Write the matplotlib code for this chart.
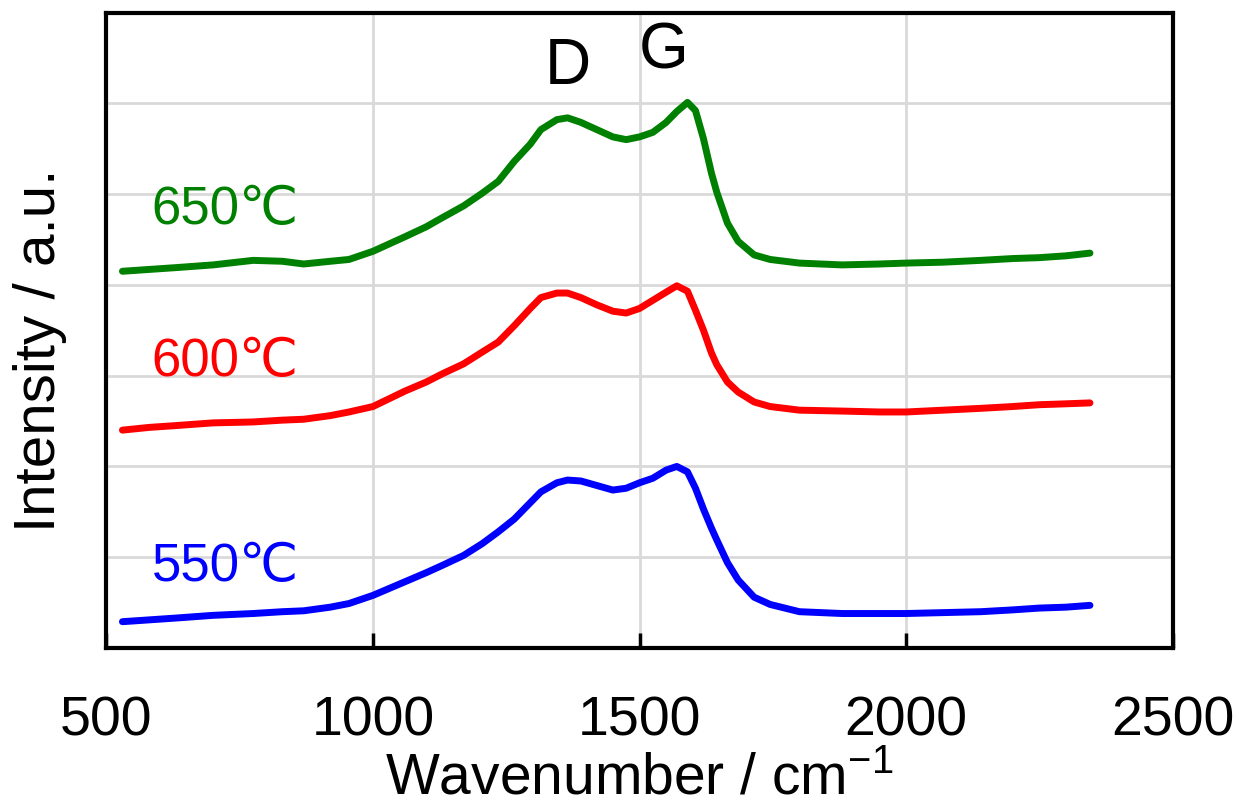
import matplotlib
matplotlib.use("Agg")
import matplotlib.pyplot as plt

plt.rcParams['font.family'] = ['Liberation Sans', 'DejaVu Sans']
plt.rcParams['mathtext.fontset'] = 'custom'
plt.rcParams['mathtext.rm'] = 'Liberation Sans'
plt.rcParams['mathtext.it'] = 'Liberation Sans'

# Raman spectra (offset stacked, arbitrary units)
wavenumber = [530, 580, 630, 700, 775, 830, 870, 920, 955, 1000, 1060, 1100,
              1130, 1170, 1205, 1235, 1265, 1295, 1315, 1345, 1365, 1390, 1420,
              1450, 1475, 1500, 1525, 1550, 1570, 1590, 1605, 1620, 1635, 1645,
              1665, 1685, 1715, 1745, 1800, 1880, 1950, 2000, 2070, 2140, 2200,
              2250, 2300, 2345]
i_650 = [4.15, 4.17, 4.19, 4.22, 4.27, 4.26, 4.23, 4.26, 4.28, 4.37, 4.53, 4.64,
         4.74, 4.87, 5.01, 5.14, 5.36, 5.55, 5.71, 5.82, 5.84, 5.79, 5.71,
         5.63, 5.60, 5.63, 5.68, 5.79, 5.91, 6.01, 5.92, 5.61, 5.23, 5.02,
         4.68, 4.48, 4.33, 4.28, 4.24, 4.22, 4.23, 4.24, 4.25, 4.27, 4.29,
         4.30, 4.32, 4.35]
i_600 = [2.40, 2.43, 2.45, 2.48, 2.49, 2.51, 2.52, 2.56, 2.60, 2.66, 2.83, 2.93,
         3.02, 3.13, 3.26, 3.37, 3.55, 3.74, 3.86, 3.91, 3.91, 3.86, 3.78,
         3.71, 3.69, 3.74, 3.83, 3.92, 3.99, 3.93, 3.72, 3.50, 3.25, 3.12,
         2.93, 2.82, 2.71, 2.66, 2.62, 2.61, 2.60, 2.60, 2.62, 2.64, 2.66,
         2.68, 2.69, 2.70]
i_550 = [0.29, 0.31, 0.33, 0.36, 0.38, 0.40, 0.41, 0.45, 0.49, 0.58, 0.73, 0.83,
         0.91, 1.02, 1.15, 1.28, 1.42, 1.60, 1.72, 1.82, 1.85, 1.84, 1.79,
         1.74, 1.76, 1.82, 1.87, 1.96, 2.00, 1.94, 1.76, 1.53, 1.32, 1.19,
         0.94, 0.75, 0.56, 0.48, 0.40, 0.38, 0.38, 0.38, 0.39, 0.40, 0.42,
         0.44, 0.45, 0.47]

series = [('650℃', i_650, '#008000', 4.83),
          ('600℃', i_600, '#ff0000', 3.15),
          ('550℃', i_550, '#0000ff', 0.89)]

fig = plt.figure(figsize=(12.42, 8.08), dpi=100)
ax = fig.add_axes([0.0857, 0.198, 0.8584, 0.7865])

for label, vals, color, ylab in series:
    ax.plot(wavenumber, vals, color=color, lw=5, solid_capstyle='round',
            solid_joinstyle='round')
    ax.text(585, ylab, label, color=color, fontsize=38, va='center', ha='left')

# peak markers
ax.text(1365, 6.4, 'D', fontsize=46, ha='center', va='center')
ax.text(1545, 6.57, 'G', fontsize=46, ha='center', va='center')

ax.set_xlim(500, 2500)
ax.set_ylim(0, 7)
ax.set_xticks([500, 1000, 1500, 2000, 2500])
ax.set_yticks(range(1, 7))
ax.tick_params(axis='y', left=False, labelleft=False)
ax.tick_params(axis='x', direction='in', length=11, width=2.5, pad=34,
               labelsize=40)
ax.grid(True, color='#d9d9d9', lw=2)
ax.set_axisbelow(True)
for sp in ax.spines.values():
    sp.set_linewidth(3)

ax.set_xlabel(r'Wavenumber / cm$^{-1}$', fontsize=41, va='baseline')
ax.xaxis.set_label_coords(0.5, -0.2296)
ax.set_ylabel('Intensity / a.u.', fontsize=42, va='baseline')
ax.yaxis.set_label_coords(-0.048, 0.469)

fig.savefig('out.png', dpi=100)
